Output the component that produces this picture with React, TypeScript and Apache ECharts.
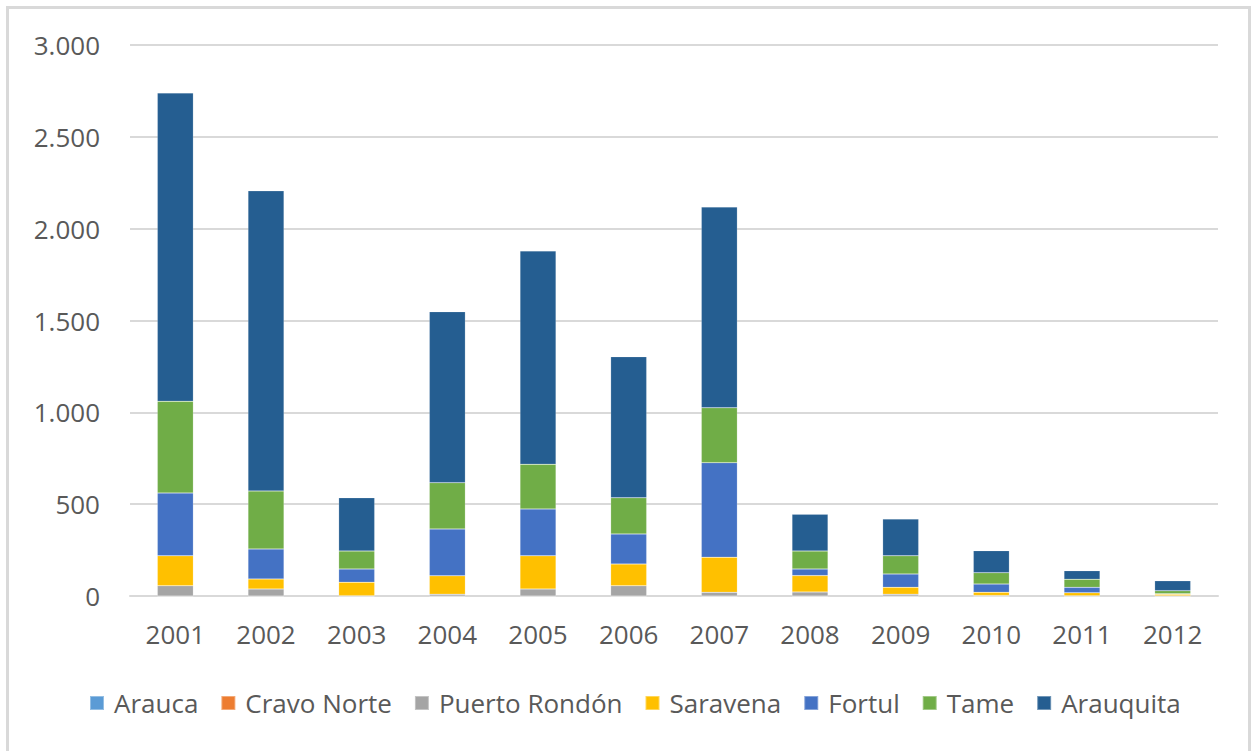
import React, { useEffect, useRef } from "react";
import * as echarts from "echarts";

const years = ["2001", "2002", "2003", "2004", "2005", "2006", "2007", "2008", "2009", "2010", "2011", "2012"];
const arauca = [0, 0, 0, 0, 0, 0, 0, 0, 0, 0, 0, 0];
const cravoNorte = [0, 0, 0, 0, 0, 0, 0, 0, 0, 0, 0, 0];
const puertoRondon = [56, 38, 2, 10, 38, 56, 20, 22, 10, 3, 1, 1];
const saravena = [163, 55, 73, 100, 181, 118, 191, 89, 37, 17, 17, 9];
const fortul = [342, 163, 72, 255, 255, 164, 515, 36, 73, 45, 29, 2];
const tame = [499, 316, 98, 252, 243, 197, 299, 98, 99, 62, 44, 17];
const arauquita = [1679, 1634, 290, 931, 1162, 768, 1093, 200, 200, 120, 47, 54];
const yTicks = [0, 500, 1000, 1500, 2000, 2500, 3000];

const seriesDefs = [
  { name: "Arauca", data: arauca, color: "#5B9BD5" },
  { name: "Cravo Norte", data: cravoNorte, color: "#ED7D31" },
  { name: "Puerto Rondón", data: puertoRondon, color: "#A5A5A5" },
  { name: "Saravena", data: saravena, color: "#FFC000" },
  { name: "Fortul", data: fortul, color: "#4472C4" },
  { name: "Tame", data: tame, color: "#70AD47" },
  { name: "Arauquita", data: arauquita, color: "#255E91" },
];

const fmt = (v: number) => {
  const s = String(Math.round(v));
  return s.replace(/\B(?=(\d{3})+(?!\d))/g, ".");
};

export default function App() {
  const ref = useRef<HTMLDivElement>(null);
  useEffect(() => {
    if (!ref.current) return;
    const chart = echarts.init(ref.current, undefined, { renderer: "svg" });
    const font = "'Open Sans', sans-serif";
    chart.setOption({
      animation: false,
      backgroundColor: "#ffffff",
      textStyle: { fontFamily: font },
      graphic: [
        {
          type: "rect",
          shape: { x: 7.5, y: 7.5, width: 1242, height: 760 },
          style: { fill: "none", stroke: "#d9d9d9", lineWidth: 3 },
          silent: true,
        },
      ],
      grid: { left: 130, right: 34, top: 45, bottom: 155, containLabel: false },
      legend: {
        bottom: 30,
        left: 84,
        itemWidth: 14,
        itemHeight: 14,
        itemGap: 22,
        icon: "rect",
        textStyle: { fontSize: 26, color: "#595959", fontFamily: font, padding: [0, 0, 0, 5] },
        data: seriesDefs.map((s) => s.name),
      },
      xAxis: {
        type: "category",
        data: years,
        axisLine: { show: true, lineStyle: { color: "#d9d9d9", width: 2 } },
        axisTick: { show: false },
        axisLabel: { fontSize: 26, color: "#595959", margin: 25, fontFamily: font },
      },
      yAxis: {
        type: "value",
        min: yTicks[0],
        max: yTicks[yTicks.length - 1],
        interval: 500,
        axisLine: { show: false },
        axisTick: { show: false },
        splitLine: { lineStyle: { color: "#d9d9d9", width: 2 } },
        axisLabel: { fontSize: 26, color: "#595959", margin: 30, fontFamily: font, formatter: (v: number) => fmt(v) },
      },
      series: seriesDefs.map((s) => ({
        name: s.name,
        type: "bar",
        stack: "total",
        barWidth: 36,
        data: s.data,
        itemStyle: { color: s.color, borderColor: "rgba(255,255,255,0.35)", borderWidth: 0.5 },
      })),
    });
    return () => chart.dispose();
  }, []);
  return (
    <div
      ref={ref}
      style={{ position: "absolute", left: 0, top: 0, width: 1252, height: 751 }}
    />
  );
}
